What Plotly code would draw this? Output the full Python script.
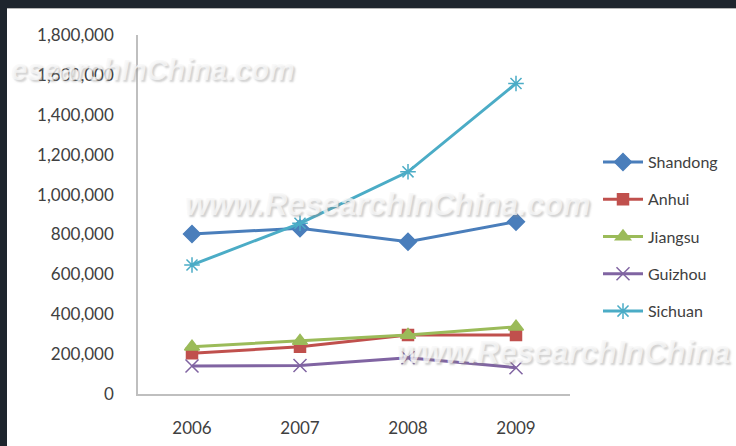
import plotly.graph_objects as go

years = ["2006", "2007", "2008", "2009"]
shandong = [802000, 831000, 763000, 864000]
anhui = [204000, 237000, 296000, 296000]
jiangsu = [237000, 266000, 296000, 337000]
guizhou = [140000, 143000, 182000, 132000]
sichuan = [647000, 856000, 1114000, 1557000]

series = [
    ("Shandong", shandong, "#4A7EBB", "diamond", 13),
    ("Anhui", anhui, "#C0504D", "square", 11),
    ("Jiangsu", jiangsu, "#9BBB59", "triangle-up", 13),
    ("Guizhou", guizhou, "#8064A2", "x-thin-open", 13),
    ("Sichuan", sichuan, "#4BACC6", "asterisk-open", 13),
]

watermarks = [
    ("esearchInChina.com", 9, 70, "left", 29),
    ("www.ResearchInChina.com", 592, 205, "right", 31),
    ("www.ResearchInChina", 395, 352, "left", 31),
]

W, H = 736, 446
L, R, T, B = 138, 570, 35, 394

def px_x(p):
    return (p - L) / (R - L)

def px_y(p):
    return (B - p) / (B - T)

fig = go.Figure()
for name, vals, col, sym, sz in series:
    fig.add_trace(go.Scatter(
        x=years, y=vals, name=name, mode="lines+markers",
        legendgroup=name,
        line=dict(color=col, width=3),
        marker=dict(symbol=sym, size=sz, color=col, line=dict(color=col, width=1.5)),
    ))

ann = []
for text, xp, yc, anchor, fs in watermarks:
    ann.append(dict(xref="paper", yref="paper", x=px_x(xp), y=px_y(yc),
                    xanchor=anchor, yanchor="middle", text=text, showarrow=False,
                    font=dict(family="Liberation Sans", size=fs, color="rgba(248,248,248,0.8)",
                              weight="bold", style="italic",
                              shadow="2px 2px 2px rgba(140,140,140,0.5)")))

# dark frame bands (top and left)
ann.append(dict(xref="paper", yref="paper", x=px_x(0), y=px_y(0), xanchor="left", yanchor="top",
                text=" ", showarrow=False, width=W, height=8, bgcolor="#1E252D", borderpad=0, borderwidth=0))
ann.append(dict(xref="paper", yref="paper", x=px_x(0), y=px_y(0), xanchor="left", yanchor="top",
                text=" ", showarrow=False, width=7, height=H, bgcolor="#1E252D", borderpad=0, borderwidth=0))
ann.append(dict(xref="paper", yref="paper", x=px_x(7), y=px_y(8), xanchor="left", yanchor="top",
                text=" ", showarrow=False, width=W, height=1, bgcolor="#B5B5B5", borderpad=0, borderwidth=0))

fig.update_layout(
    width=W, height=H,
    margin=dict(l=L, r=W - R, t=T, b=H - B, autoexpand=False),
    paper_bgcolor="white", plot_bgcolor="white",
    font=dict(family="Lato", color="#404040", size=17),
    showlegend=True,
    legend=dict(x=px_x(598), y=px_y(145), xanchor="left", yanchor="top",
                font=dict(family="Lato", size=16, color="#404040"),
                tracegroupgap=13.5, itemwidth=40, bgcolor="rgba(0,0,0,0)"),
    annotations=ann,
    xaxis=dict(type="category", range=[-0.5, 3.5], showline=True, linecolor="#BFBFBF", linewidth=1.5,
               showgrid=False, zeroline=False, ticks="", ticklabelstandoff=18, automargin=False,
               tickfont=dict(family="Lato", size=17, color="#404040")),
    yaxis=dict(range=[0, 1800000], dtick=200000, tickformat=",", showline=True, linecolor="#BFBFBF",
               linewidth=1.5, showgrid=False, zeroline=False, ticks="", ticklabelstandoff=19,
               automargin=False, tickfont=dict(family="Lato", size=17, color="#404040")),
)

fig.write_html("out.html")
